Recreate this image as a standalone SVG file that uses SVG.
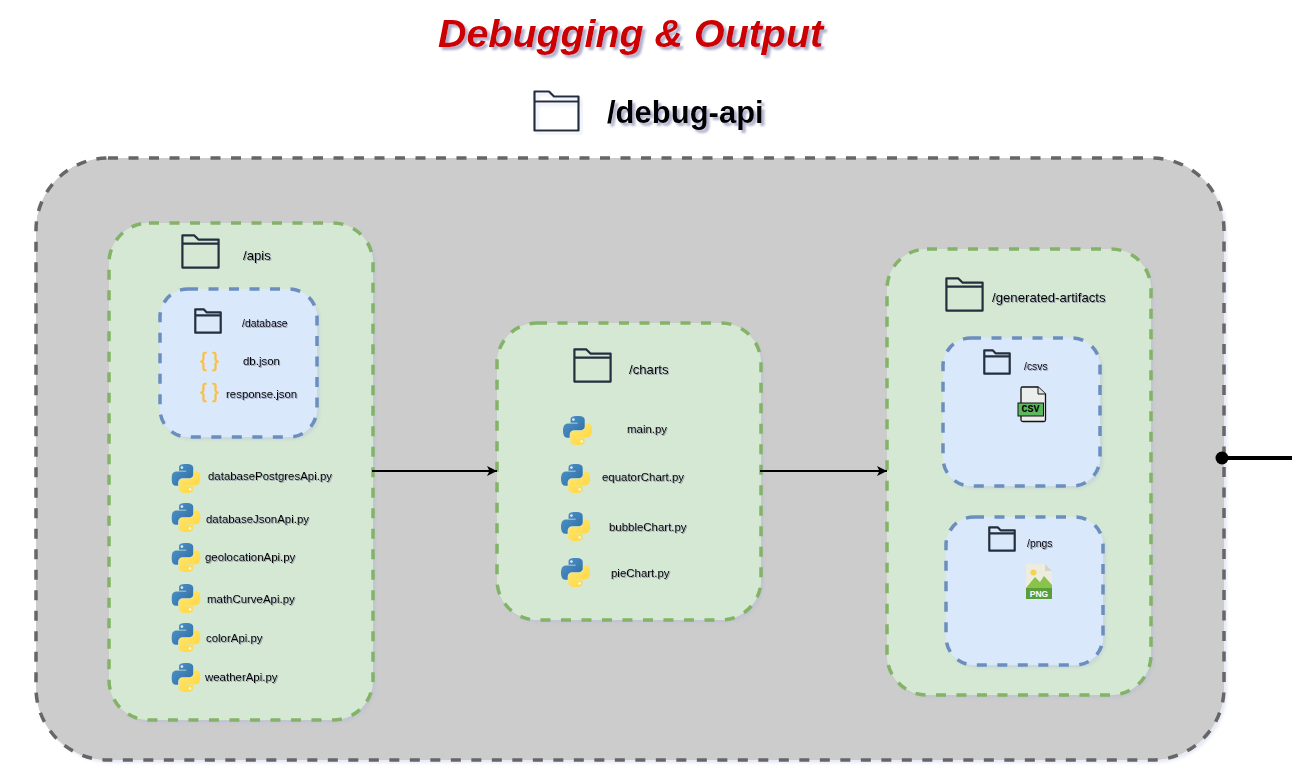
<svg xmlns="http://www.w3.org/2000/svg" width="1292" height="776" viewBox="0 0 1292 776">
<style>
text{font-family:"Liberation Sans",Arial,sans-serif;fill:#000;dominant-baseline:central}
.f11{font-size:11.45px}.f9{font-size:10.4px}.f12{font-size:13.2px}
.label{filter:url(#ls)}
.outer{fill:#cccccc;stroke:#666666;stroke-width:3.5;stroke-dasharray:10 10.5}
.green{fill:#d5e8d4;stroke:#82b366;stroke-width:3.5;stroke-dasharray:10 10.5}
.blue{fill:#dae8fc;stroke:#6c8ebf;stroke-width:3.5;stroke-dasharray:10 10.5}
.base{stroke:none;filter:url(#sh)}
.fold{fill:none;stroke:#232f3e;stroke-width:2.2;vector-effect:non-scaling-stroke;stroke-linejoin:round}
.conn{fill:none;stroke:#000;stroke-width:2}
.brace{font-size:19.5px;fill:#fcc03f;stroke:#fcc03f;stroke-width:.5}
</style>
<defs>
<filter id="sh" x="-10%" y="-10%" width="120%" height="120%">
<feGaussianBlur in="SourceAlpha" stdDeviation="1.5"/>
<feOffset dx="3" dy="3"/>
<feColorMatrix values="0 0 0 0 0.4 0 0 0 0 0.45 0 0 0 0 0.7 0 0 0 0.28 0"/>
<feMerge><feMergeNode/><feMergeNode in="SourceGraphic"/></feMerge>
</filter>
<filter id="ts" x="-10%" y="-30%" width="120%" height="170%">
<feGaussianBlur in="SourceAlpha" stdDeviation="1.2"/>
<feOffset dx="2.5" dy="2.5"/>
<feColorMatrix values="0 0 0 0 0.2 0 0 0 0 0.2 0 0 0 0 0.4 0 0 0 0.6 0"/>
<feMerge><feMergeNode/><feMergeNode in="SourceGraphic"/></feMerge>
</filter>
<filter id="ls" x="-10%" y="-30%" width="120%" height="170%">
<feGaussianBlur in="SourceAlpha" stdDeviation="0.6"/>
<feOffset dx="0.6" dy="0.6"/>
<feColorMatrix values="0 0 0 0 0.1 0 0 0 0 0.1 0 0 0 0 0.2 0 0 0 0.5 0"/>
<feMerge><feMergeNode/><feMergeNode in="SourceGraphic"/></feMerge>
</filter>
<marker id="arr" markerWidth="11" markerHeight="11" refX="10" refY="5" orient="auto" markerUnits="userSpaceOnUse"><path d="M0 0L10 5L0 10L2.500 5Z" fill="#000"/></marker>
<marker id="dot" markerWidth="14" markerHeight="14" refX="7" refY="7" markerUnits="userSpaceOnUse"><circle cx="7" cy="7" r="6.500" fill="#000"/></marker>
<symbol id="folder" viewBox="0 0 45 40" preserveAspectRatio="none" overflow="visible">
<path class="fold" d="M0.500 0.500H15L20 5.500H44.500V39.500H0.500ZM0.500 10.500H44.500"/>
</symbol>
<linearGradient id="pb" x1="0" y1="0" x2="1" y2="1"><stop offset="0" stop-color="#4f97cf"/><stop offset="1" stop-color="#2f6a9e"/></linearGradient>
<linearGradient id="py" x1="0" y1="0" x2="1" y2="1"><stop offset="0" stop-color="#ffe873"/><stop offset="1" stop-color="#ffd43b"/></linearGradient>
<symbol id="python" viewBox="0 0 110 110">
<path fill="url(#pb)" d="M54.900 0C50.300 0 46 .4 42.100 1.100C30.700 3.100 28.600 7.300 28.600 15V25.300H55.600V28.700H18.400C10.600 28.700 3.800 33.400 1.700 42.300C-.8 52.400-.9 58.700 1.700 69.300C3.600 77.200 8.100 82.800 15.900 82.800H25.200V70.500C25.200 61.700 32.800 53.900 41.900 53.900H68.900C76.400 53.900 82.400 47.700 82.400 40.200V15C82.400 7.800 76.300 2.400 68.900 1.100C64.300 .3 59.500 0 54.900 0Z"/>
<circle cx="39.500" cy="13.500" r="5" fill="#dfeaf2"/>
<path fill="url(#py)" d="M55.100 110C59.700 110 64 109.600 67.900 108.900C79.300 106.900 81.400 102.700 81.400 95V84.700H54.400V81.300H91.600C99.400 81.300 106.200 76.600 108.300 67.700C110.800 57.600 110.900 51.300 108.300 40.700C106.400 32.800 101.900 27.200 94.100 27.200H84.800V39.500C84.800 48.300 77.200 56.100 68.100 56.100H41.100C33.600 56.100 27.600 62.300 27.600 69.800V95C27.600 102.200 33.700 107.600 41.100 108.900C45.700 109.700 50.500 110 55.100 110Z"/>
<circle cx="70.500" cy="96.500" r="5" fill="#fff6d0"/>
</symbol>
</defs>

<g id="title" filter="url(#ts)">
<text x="438" y="33" style="font-size:39.400px;font-weight:bold;font-style:italic;fill:#cc0000">Debugging &amp; Output</text>
</g>
<g id="debug-api-label">
<g filter="url(#sh)"><use href="#folder" x="534" y="91" width="45" height="40" style="--w:3"/></g>
<g filter="url(#ts)"><text x="607" y="112" style="font-size:31px;font-weight:bold">/debug-api</text></g>
</g>

<g id="debug-api">
<rect class="outer base" x="36" y="158" width="1188" height="602" rx="72" ry="72"/>
<rect class="outer" x="36" y="158" width="1188" height="602" rx="72" ry="72"/>
</g>

<g id="apis">
<rect class="green base" x="109" y="223" width="264" height="497" rx="40" ry="40"/>
<rect class="green" x="109" y="223" width="264" height="497" rx="40" ry="40"/>
<use href="#folder" x="182" y="235" width="37" height="33"/>
<g class="label">
<text class="f12" x="243" y="255">/apis</text>
<text class="f11" x="208" y="476">databasePostgresApi.py</text>
<text class="f11" x="206" y="519">databaseJsonApi.py</text>
<text class="f11" x="205" y="557">geolocationApi.py</text>
<text class="f11" x="207" y="599">mathCurveApi.py</text>
<text class="f11" x="206" y="638">colorApi.py</text>
<text class="f11" x="205" y="677">weatherApi.py</text>
</g>
<use href="#python" x="171.500" y="464" width="29" height="29"/>
<use href="#python" x="171.500" y="503" width="29" height="29"/>
<use href="#python" x="171.500" y="543" width="29" height="29"/>
<use href="#python" x="171.500" y="584" width="29" height="29"/>
<use href="#python" x="171.500" y="623" width="29" height="29"/>
<use href="#python" x="171.500" y="663" width="29" height="29"/>
</g>

<g id="database">
<rect class="blue base" x="160" y="289" width="157" height="148" rx="28" ry="28"/>
<rect class="blue" x="160" y="289" width="157" height="148" rx="28" ry="28"/>
<use href="#folder" x="195" y="309" width="26" height="24"/>
<text class="brace" x="200.500" y="360">{ }</text>
<text class="brace" x="200.500" y="391">{ }</text>
<g class="label">
<text class="f9" x="242" y="323">/database</text>
<text class="f11" x="243" y="361">db.json</text>
<text class="f11" x="226" y="394">response.json</text>
</g>
</g>

<g id="charts">
<rect class="green base" x="497" y="323" width="264" height="297" rx="40" ry="40"/>
<rect class="green" x="497" y="323" width="264" height="297" rx="40" ry="40"/>
<use href="#folder" x="574" y="349" width="37" height="33"/>
<g class="label">
<text class="f12" x="629" y="369">/charts</text>
<text class="f11" x="627" y="429">main.py</text>
<text class="f11" x="602" y="477">equatorChart.py</text>
<text class="f11" x="609" y="527">bubbleChart.py</text>
<text class="f11" x="611" y="573">pieChart.py</text>
</g>
<use href="#python" x="563" y="416" width="29" height="29"/>
<use href="#python" x="561" y="464" width="29" height="29"/>
<use href="#python" x="561" y="512" width="29" height="29"/>
<use href="#python" x="561" y="558" width="29" height="29"/>
</g>

<g id="generated-artifacts">
<rect class="green base" x="887" y="249" width="264" height="446" rx="40" ry="40"/>
<rect class="green" x="887" y="249" width="264" height="446" rx="40" ry="40"/>
<use href="#folder" x="946" y="278" width="37" height="33"/>
<text class="f12 label" x="992" y="297">/generated-artifacts</text>
</g>

<g id="csvs">
<rect class="blue base" x="943" y="338" width="157" height="148" rx="28" ry="28"/>
<rect class="blue" x="943" y="338" width="157" height="148" rx="28" ry="28"/>
<use href="#folder" x="984" y="350" width="26" height="24"/>
<text class="f9 label" x="1024" y="366">/csvs</text>
<path d="M1022 387H1038L1045.500 394V420Q1045.500 421.500 1044 421.500H1023Q1021 421.500 1021 420V389Q1021 387 1022 387Z" fill="#eceeec" stroke="#111" stroke-width="1.300"/>
<path d="M1038 387V394H1045.500" fill="#dfe3df" stroke="#111" stroke-width="1"/>
<rect x="1018" y="403" width="25.500" height="13" fill="#5cb85c" stroke="#111" stroke-width="1"/>
<text x="1030.500" y="409.500" text-anchor="middle" style="font-size:10px;font-weight:bold;font-family:'Liberation Mono',monospace">CSV</text>
</g>

<g id="pngs">
<rect class="blue base" x="946" y="517" width="157" height="148" rx="28" ry="28"/>
<rect class="blue" x="946" y="517" width="157" height="148" rx="28" ry="28"/>
<use href="#folder" x="989" y="527" width="26" height="24"/>
<text class="f9 label" x="1027" y="543">/pngs</text>
<path d="M1026 564H1045L1052 571V599H1026Z" fill="#ececdf"/>
<path d="M1045 564V571H1052Z" fill="#d5d5c8"/>
<circle cx="1033.500" cy="572.500" r="3" fill="#f5d34f"/>
<path d="M1026 588L1035 577L1040 582L1044 576L1052 585V589H1026Z" fill="#8bc34a"/>
<rect x="1026" y="588" width="26" height="11" fill="#5a9e3c"/>
<text x="1039" y="593.500" text-anchor="middle" style="font-size:8.500px;font-weight:bold;fill:#fff">PNG</text>
</g>

<g id="connectors">
<path class="conn" d="M372 471H497" marker-end="url(#arr)"/>
<path class="conn" d="M760 471H887" marker-end="url(#arr)"/>
<path d="M1222 458H1292" fill="none" stroke="#000" stroke-width="4" marker-start="url(#dot)"/>
</g>
</svg>
